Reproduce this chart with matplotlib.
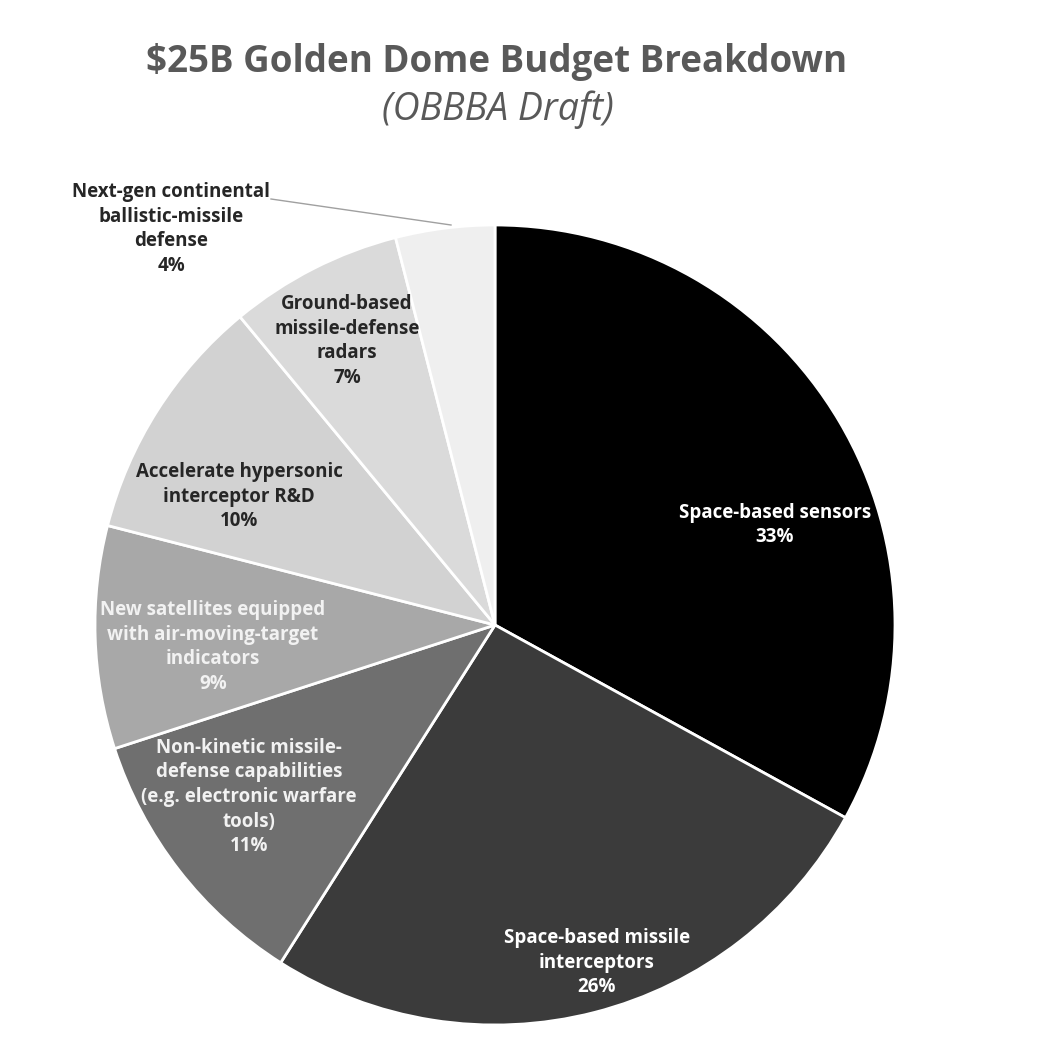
import matplotlib
matplotlib.use("Agg")
import matplotlib.pyplot as plt

categories = [
    "Space-based sensors",
    "Space-based missile\ninterceptors",
    "Non-kinetic missile-\ndefense capabilities\n(e.g. electronic warfare\ntools)",
    "New satellites equipped\nwith air-moving-target\nindicators",
    "Accelerate hypersonic\ninterceptor R&D",
    "Ground-based\nmissile-defense\nradars",
    "Next-gen continental\nballistic-missile\ndefense",
]
values = [33, 26, 11, 9, 10, 7, 4]
colors = ["#000000", "#3b3b3b", "#6f6f6f", "#a8a8a8", "#d2d2d2", "#dadada", "#efefef"]
text_colors = ["white", "white", "#f2f2f2", "#f2f2f2", "#262626", "#262626", "#262626"]
label_pos = [(0.70, 0.25), (0.255, -0.845), (-0.615, -0.43), (-0.705, -0.055),
             (-0.64, 0.32), (-0.37, 0.71), (-0.81, 0.99)]

plt.rcParams['font.family'] = ['Open Sans', 'DejaVu Sans']

fig = plt.figure(figsize=(10.5, 10.53), dpi=100)
ax = fig.add_axes([95/1050, 28/1053, 800/1050, 800/1053])
ax.pie(values, colors=colors, startangle=90, counterclock=False, radius=1.0,
       wedgeprops=dict(edgecolor="white", linewidth=2))
ax.set_xlim(-1, 1)
ax.set_ylim(-1, 1)
ax.set_aspect("equal")
ax.axis("off")

for cat, v, (x, y), tc in zip(categories, values, label_pos, text_colors):
    ax.text(x, y, f"{cat}\n{v}%", ha="center", va="center", fontsize=13.5,
            fontweight="bold", color=tc, linespacing=1.3, clip_on=False)

# leader line for the small slice
ax.plot([-0.56, -0.11], [1.065, 1.0], color="#a0a0a0", lw=1, clip_on=False)

fig.text(497/1050, 1 - 62/1053, "$25B Golden Dome Budget Breakdown", ha="center", va="center",
         fontsize=26.5, fontweight="bold", color="#595959")
fig.text(498/1050, 1 - 110/1053, "(OBBBA Draft)", ha="center", va="center",
         fontsize=27, style="italic", color="#595959")

fig.savefig("out.png", dpi=100, facecolor="white")
